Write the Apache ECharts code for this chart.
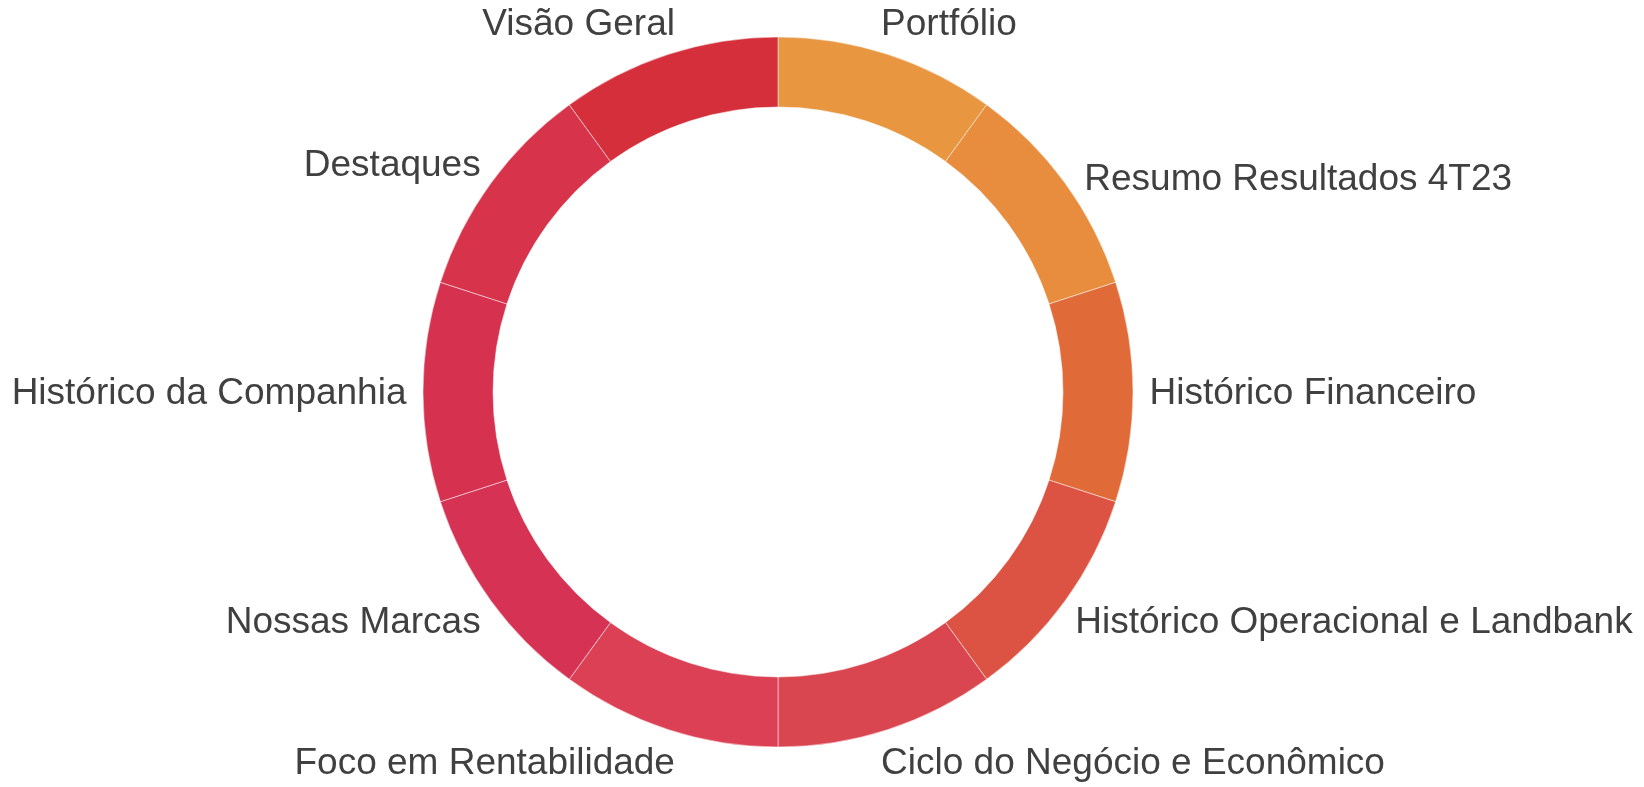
<!DOCTYPE html>
<html>
<head>
<meta charset="utf-8">
<script src="https://cdn.jsdelivr.net/npm/echarts@6/dist/echarts.min.js"></script>
<style>
html,body{margin:0;padding:0;background:#fff;}
#chart{width:1644px;height:787px;}
</style>
</head>
<body>
<div id="chart"></div>
<script>
const categories = [
  'Portfólio',
  'Resumo Resultados 4T23',
  'Histórico Financeiro',
  'Histórico Operacional e Landbank',
  'Ciclo do Negócio e Econômico',
  'Foco em Rentabilidade',
  'Nossas Marcas',
  'Histórico da Companhia',
  'Destaques',
  'Visão Geral'
];
const values = [1, 1, 1, 1, 1, 1, 1, 1, 1, 1];
const colors = [
  '#E89640', '#E78D3D', '#E06B38', '#DC5344', '#DA4650',
  '#DC4054', '#D63254', '#D73150', '#D7344C', '#D42F3A'
];

const data = categories.map((name, i) => ({
  name: name, value: values[i], itemStyle: { color: colors[i] }
}));

const chart = echarts.init(document.getElementById('chart'), null, { renderer: 'canvas' });
chart.setOption({
  backgroundColor: '#ffffff',
  animation: false,
  series: [{
    type: 'pie',
    center: [778, 392],
    radius: [285, 355],
    startAngle: 90,
    clockwise: true,
    avoidLabelOverlap: false,
    silent: true,
    itemStyle: { borderColor: '#ffffff', borderWidth: 0.5 },
    label: {
      show: true,
      position: 'outside',
      color: '#404040',
      fontFamily: 'Liberation Sans, Arial, sans-serif',
      fontSize: 37,
      alignTo: 'none'
    },
    labelLine: { show: false, length: 33.5, length2: -22 },
    labelLayout: function (params) {
      if (categories[params.dataIndex] === 'Resumo Resultados 4T23') {
        return { dx: 9, dy: 16 };
      }
      return { dy: 2 };
    },
    emphasis: { disabled: true },
    data: data
  }]
});
</script>
</body>
</html>
